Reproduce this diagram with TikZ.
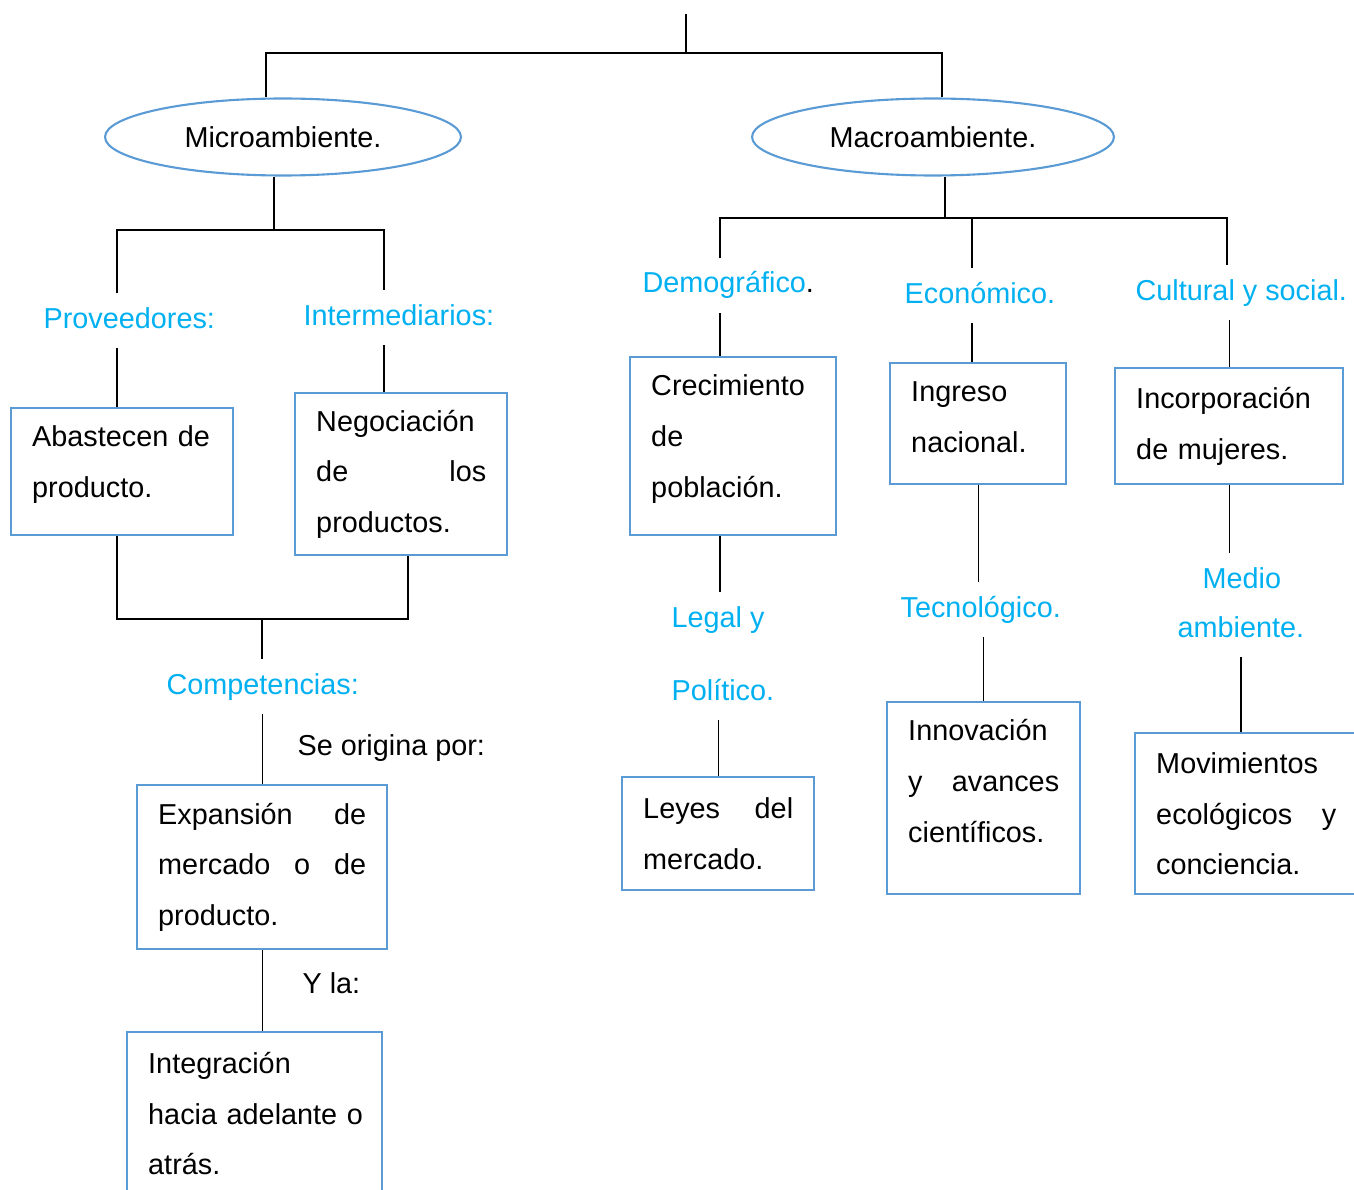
\documentclass[tikz,border=0pt]{standalone}
\usepackage{fontspec}
\setmainfont{Liberation Sans}
\usetikzlibrary{shapes.geometric}
\definecolor{bordeazul}{HTML}{5B9BD5}
\definecolor{celeste}{HTML}{00B0F0}
\tikzset{
  every node/.style={font=\fontsize{16.4pt}{28.9pt}\selectfont},
  caja/.style={draw=bordeazul, line width=1.4pt, anchor=north west, align=left, inner xsep=0.42cm, inner ysep=3pt},
  ovalo/.style={ellipse, draw=bordeazul, line width=1.2pt, minimum height=1.54cm, inner sep=0pt},
  rotulo/.style={text=celeste, anchor=base west, inner xsep=0pt, inner ysep=7pt, text height=12.3pt, text depth=4.1pt},
  nota/.style={anchor=base west, inner sep=0pt},
}
\begin{document}
\begin{tikzpicture}[x=0.02cm, y=-0.02cm, line width=0.7pt]
  \useasboundingbox (0,0) rectangle (1354,1189);

  % ovalos
  \node[ovalo, minimum width=7.12cm] (micro) at (283,137) {Microambiente.};
  \node[ovalo, minimum width=7.24cm] (macro) at (933,137) {Macroambiente.};

  % rotulos
  \node[rotulo] (prov) at (43,328) {Proveedores:};
  \node[rotulo] (inter) at (303,325) {Intermediarios:};
  \node[rotulo] (comp) at (166,694) {Competencias:};
  \node[rotulo] (demo) at (642,293) {Demográfico\textcolor{black}{.}};
  \node[rotulo] (econ) at (904,303) {Económico.};
  \node[rotulo] (cult) at (1135,300) {Cultural y social.};
  \node[rotulo] (legal) at (671,627) {Legal y};
  \node[rotulo] (polit) at (671,700) {Político.};
  \node[rotulo] (tecno) at (900,617) {Tecnológico.};
  \node[rotulo] (medio) at (1202,588) {Medio};
  \node[rotulo] (amb) at (1177,637) {ambiente.};
  \node[nota] (origen) at (297,755) {Se origina por:};
  \node[nota] (yla) at (302,993) {Y la:};

  % cajas
  \node[caja, text width=3.6cm, minimum height=2.54cm] (abast) at (10,407) {\mbox{Abastecen de}\\producto.\\[-0.6cm]\mbox{}};
  \node[caja, text width=3.4cm, minimum height=3.24cm] (nego) at (294,392) {Negociación\\de\hfill los\\productos.};
  \node[caja, text width=4.16cm, minimum height=3.28cm] (expan) at (136,784) {Expansión\hfill de\\mercado\hfill o\hfill de\\producto.};
  \node[caja, text width=4.26cm, minimum height=3.26cm] (integ) at (126,1031) {Integración\\\mbox{hacia adelante o}\\atrás.};
  \node[caja, text width=3.28cm, minimum height=3.56cm] (crec) at (629,356) {Crecimiento\\de\\población.\\[-0.6cm]\mbox{}};
  \node[caja, text width=2.68cm, minimum height=2.42cm] (ingr) at (889,362) {Ingreso\\nacional.\\[-0.76cm]\mbox{}};
  \node[caja, text width=3.72cm, minimum height=2.32cm] (incorp) at (1114,367) {Incorporación\\\mbox{de mujeres.}};
  \node[caja, text width=3.0cm, minimum height=2.26cm] (leyes) at (621,776) {Leyes\hfill del\\mercado.};
  \node[caja, text width=3.02cm, minimum height=3.84cm] (innov) at (886,701) {Innovación\\y\hfill avances\\científicos.\\[-0.32cm]\mbox{}};
  \node[caja, text width=3.6cm, minimum height=3.22cm] (movim) at (1134,732) {Movimientos\\ecológicos\hfill y\\conciencia.};

  % lineas de arriba
  \coordinate (raiz) at (686,14);
  \coordinate (centro) at (686,53);
  \coordinate (izq) at (266,53);
  \coordinate (der) at (942,53);
  \draw (raiz) -- (centro);
  \draw (izq |- micro.north) -- (izq) -- (der) -- (der |- macro.north);

  % microambiente
  \coordinate (mhub) at (274,230);
  \coordinate (mizq) at (117,230);
  \coordinate (mder) at (384,230);
  \draw (mhub |- micro.south) -- (mhub);
  \draw (mizq |- prov.north) -- (mizq) -- (mder) -- (mder |- inter.north);
  \draw (mizq |- prov.south) -- (mizq |- abast.north);
  \draw (mder |- inter.south) -- (mder |- nego.north);
  \coordinate (cizq) at (117,619);
  \coordinate (cder) at (408,619);
  \coordinate (chub) at (262,619);
  \draw (cizq |- abast.south) -- (cizq) -- (cder) -- (cder |- nego.south);
  \draw (chub) -- (chub |- comp.north);
  \draw (expan.north |- comp.south) -- (expan.north);
  \draw (expan.south) -- (expan.south |- integ.north);

  % macroambiente
  \coordinate (Mhub) at (945,218);
  \coordinate (Ma) at (720,218);
  \coordinate (Mb) at (972,218);
  \coordinate (Mc) at (1227,218);
  \draw (Mhub |- macro.south) -- (Mhub);
  \draw (Ma |- demo.north) -- (Ma) -- (Mc) -- (Mc |- cult.north);
  \draw (Mb) -- (Mb |- econ.north);
  \draw (Ma |- demo.south) -- (Ma |- crec.north);
  \draw (Mb |- econ.south) -- (Mb |- ingr.north);
  \draw (incorp.north |- cult.south) -- (incorp.north);
  \draw (Ma |- crec.south) -- (Ma |- legal.north);
  \draw (leyes.north |- polit.south) -- (leyes.north);
  \draw (ingr.south) -- (ingr.south |- tecno.north);
  \draw (innov.north |- tecno.south) -- (innov.north);
  \draw (incorp.south) -- (incorp.south |- medio.north);
  \draw (amb.south) -- (amb.south |- movim.north);
\end{tikzpicture}
\end{document}
